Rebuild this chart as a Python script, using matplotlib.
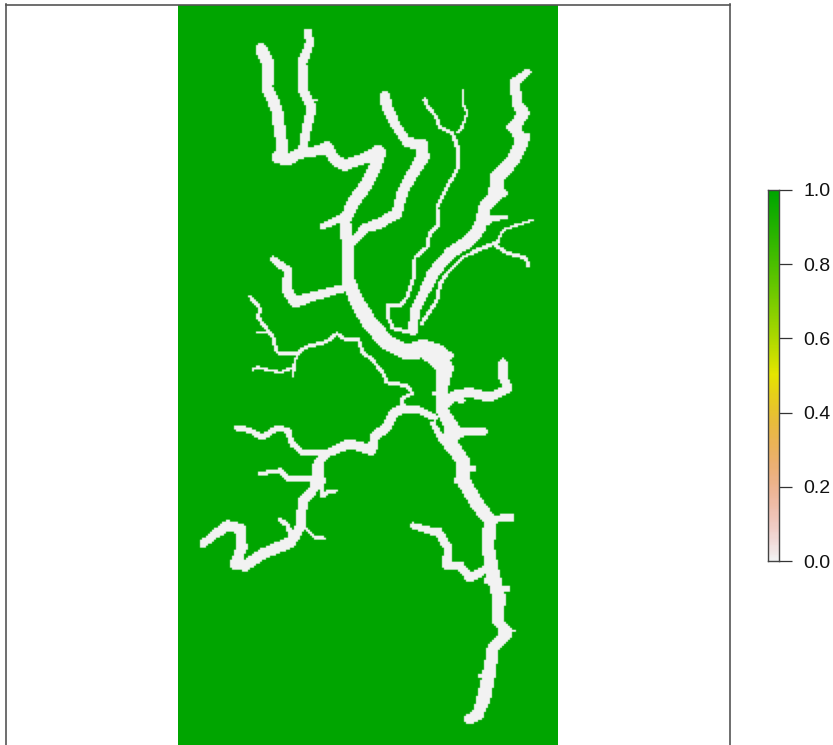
import colorsys

import numpy as np
import matplotlib
matplotlib.use('Agg')
import matplotlib.pyplot as plt
from matplotlib.colors import ListedColormap

plt.rcParams['font.family'] = ['Liberation Sans', 'DejaVu Sans']

# river reaches: (x, y, width) in screen pixels
main_stem = [(261, 49, 11), (268, 63, 11), (267, 87, 11), (277, 110, 11), (280, 133, 11), (283, 148, 10),
             (278, 157, 12), (287, 160, 11), (300, 153, 10), (313, 152, 9), (327, 147, 11), (335, 160, 10),
             (345, 165, 10), (367, 157, 10), (378, 153, 15), (377, 163, 11), (367, 183, 12), (353, 203, 12),
             (345, 220, 10), (348, 247, 12), (348, 280, 12), (358, 303, 14), (370, 323, 15), (387, 342, 15),
             (407, 352, 15), (423, 348, 18), (437, 355, 22), (445, 368, 16), (442, 390, 10), (441, 408, 11),
             (452, 427, 14), (450, 443, 14), (463, 460, 12), (463, 480, 13), (477, 503, 13), (490, 520, 12),
             (488, 547, 12), (493, 573, 13), (499, 597, 13), (498, 620, 10), (507, 632, 11), (493, 647, 11),
             (490, 667, 12), (487, 683, 13), (483, 700, 13), (478, 713, 11), (470, 718, 10)]
upper_west = [(308, 32, 7), (310, 43, 8), (302, 63, 9), (303, 90, 9), (312, 107, 9), (308, 123, 9), (303, 147, 8)]
upper_mid = [(385, 97, 10), (387, 108, 10), (397, 127, 9), (407, 142, 9), (422, 145, 11), (423, 157, 12),
             (413, 173, 11), (403, 190, 10), (397, 213, 10), (380, 223, 10), (365, 228, 9), (353, 242, 7)]
upper_stub = [(323, 226, 6), (343, 217, 7)]
thin_north = [(425, 100, 4), (428, 107, 3), (435, 115, 3), (440, 127, 3), (452, 133, 3), (458, 148, 4),
              (457, 170, 3), (447, 187, 3), (437, 207, 3), (438, 225, 3), (430, 233, 3), (427, 247, 3),
              (415, 257, 3), (413, 280, 3), (407, 297, 3), (400, 305, 3), (387, 305, 3), (388, 317, 3),
              (393, 328, 3), (410, 332, 3)]
hairline = [(463, 89, 1), (463, 103, 1.5), (467, 113, 1.5), (462, 127, 2), (458, 133, 2)]
east_long = [(528, 72, 6), (515, 82, 9), (517, 103, 10), (523, 113, 12), (515, 127, 11), (522, 143, 12),
             (513, 160, 13), (497, 177, 13), (497, 193, 13), (485, 207, 12), (480, 227, 12), (470, 240, 12),
             (450, 253, 11), (433, 273, 11), (425, 290, 10), (415, 310, 9), (413, 330, 9)]
east_stub = [(483, 225, 4), (493, 218, 5), (505, 217, 4)]
east_thin = [(533, 220, 1.5), (513, 226, 2), (503, 230, 2), (497, 242, 3), (477, 250, 3), (463, 257, 2.5),
             (447, 273, 3), (440, 283, 3), (437, 300, 3), (422, 323, 3)]
east_fork = [(496, 245, 3), (507, 253, 3), (525, 257, 3), (529, 266, 3)]
west_upper = [(273, 259, 6), (288, 270, 8), (287, 290, 9), (295, 302, 10), (310, 297, 9), (343, 288, 7)]
west_thin = [(250, 296, 3), (260, 308, 3), (258, 317, 3), (273, 337, 3), (277, 352, 3), (297, 353, 4),
             (305, 347, 3), (327, 341, 3), (337, 333, 3), (345, 339, 3), (358, 339, 3), (363, 352, 3),
             (373, 360, 3), (383, 373, 3), (387, 382, 3), (407, 385, 3), (412, 393, 3), (403, 397, 3),
             (402, 407, 3)]
west_twig = [(253, 369, 2), (258, 367, 2), (280, 372, 2), (293, 367, 2), (297, 355, 2)]
west_spur = [(292, 377, 1), (295, 367, 1.5)]
west_nub = [(257, 332, 1.5), (267, 331, 1.5)]
south_west = [(435, 417, 6), (420, 410, 7), (403, 408, 8), (393, 413, 9), (387, 427, 9), (375, 435, 9),
              (372, 450, 9), (350, 443, 9), (327, 453, 7), (318, 462, 9), (318, 480, 14), (313, 490, 8),
              (303, 500, 9), (300, 527, 9), (290, 542, 11), (263, 553, 10), (245, 565, 10), (235, 563, 10),
              (242, 547, 10), (240, 528, 10), (228, 525, 10), (217, 532, 9), (203, 543, 7)]
twig_j = [(236, 427, 5), (250, 430, 5), (262, 437, 5), (278, 427, 5), (288, 430, 5), (292, 443, 5),
          (302, 452, 5), (323, 452, 5)]
twig_k = [(260, 473, 3), (280, 470, 4), (288, 479, 5), (313, 477, 5)]
twig_l = [(322, 483, 3), (323, 495, 4), (328, 491, 3), (337, 490, 3)]
twig_m = [(280, 519, 4), (288, 525, 4), (290, 532, 4)]
twig_n = [(305, 527, 2), (315, 537, 3), (325, 538, 3)]
east_mid = [(503, 362, 8), (503, 377, 8), (508, 388, 9), (490, 397, 9), (470, 392, 9), (453, 395, 9), (447, 403, 8)]
east_low = [(483, 431, 8), (463, 431, 8), (453, 437, 8)]
side_channel = [(433, 423, 4), (443, 440, 7)]
stub_q = [(510, 517, 8), (497, 518, 6), (488, 527, 6)]
south_east = [(413, 525, 6), (430, 530, 7), (438, 531, 8), (448, 547, 8), (447, 565, 9), (460, 565, 8),
              (470, 577, 9), (483, 570, 8), (488, 567, 6)]
# small lumps along the banks
bank_lumps = [[(312, 100, 3), (317, 100, 3)], [(510, 127, 6), (516, 127, 6)], [(525, 113, 7), (520, 113, 7)],
              [(527, 137, 7), (520, 137, 7)], [(505, 193, 6), (497, 193, 6)], [(490, 190, 5), (497, 190, 5)],
              [(515, 630, 3), (507, 630, 3)], [(480, 675, 4), (486, 675, 4)], [(507, 588, 5), (500, 588, 5)],
              [(487, 580, 6), (493, 580, 6)], [(450, 355, 6), (442, 355, 6)], [(435, 393, 4), (441, 393, 4)],
              [(462, 400, 6), (455, 397, 6)], [(457, 480, 7), (463, 480, 7)], [(473, 468, 5), (466, 468, 5)]]

reaches = [main_stem, upper_west, upper_mid, upper_stub, thin_north, hairline, east_long, east_stub,
           east_thin, east_fork, west_upper, west_thin, west_twig, west_spur, west_nub, south_west,
           twig_j, twig_k, twig_l, twig_m, twig_n, east_mid, east_low, side_channel, stub_q, south_east] + bank_lumps

tick_values = [0.0, 0.2, 0.4, 0.6, 0.8, 1.0]
tick_labels = ['0.0', '0.2', '0.4', '0.6', '0.8', '1.0']


def terrain_cmap(n=255):
    # same ramp as R's terrain.colors, turned round so 0 is the pale end
    k = n // 2
    h = np.concatenate([np.linspace(4 / 12, 2 / 12, k), np.linspace(2 / 12, 0, n - k + 1)[1:]])
    s = np.concatenate([np.linspace(1, 1, k), np.linspace(1, 0, n - k + 1)[1:]])
    v = np.concatenate([np.linspace(0.65, 0.9, k), np.linspace(0.9, 0.95, n - k + 1)[1:]])
    cols = [colorsys.hsv_to_rgb(a, b, c) for a, b, c in zip(h, s, v)]
    return ListedColormap(cols[::-1])


def burn_reach(grid, xc, yc, reach):
    # set cells to 0 where they fall inside the reach
    for (x0, y0, w0), (x1, y1, w1) in zip(reach[:-1], reach[1:]):
        dx, dy = x1 - x0, y1 - y0
        t = ((xc - x0) * dx + (yc - y0) * dy) / (dx * dx + dy * dy)
        t = np.clip(t, 0, 1)
        dist = np.hypot(xc - (x0 + t * dx), yc - (y0 + t * dy))
        grid[dist <= (w0 + t * (w1 - w0)) / 2 + 0.4] = 0


W, H = 833, 745
cmap = terrain_cmap()

# raster cells, about 2 px each
left, right, top, bottom = 178, 557.5, 5, 770
cell = 2.0
xc, yc = np.meshgrid(np.arange(left + cell / 2, right, cell), np.arange(top + cell / 2, bottom, cell))
grid = np.ones(xc.shape)
for r in reaches:
    burn_reach(grid, xc, yc, r)

fig = plt.figure(figsize=(W / 100, H / 100), dpi=100)

frame_l, frame_r, frame_t, frame_b = 5.5, 729.5, 4.5, 770
ax = fig.add_axes([frame_l / W, 1 - frame_b / H, (frame_r - frame_l) / W, (frame_b - frame_t) / H])
ax.imshow(grid, cmap=cmap, vmin=0, vmax=1, interpolation='antialiased', extent=(left, right, bottom, top), aspect='auto')
ax.set_xlim(frame_l, frame_r)
ax.set_ylim(frame_b, frame_t)
ax.set_xticks([])
ax.set_yticks([])
for sp in ax.spines.values():
    sp.set_color('#555555')
    sp.set_linewidth(1.2)

# colour key
cax = fig.add_axes([768 / W, 1 - 561 / H, 11 / W, 371 / H])
ramp = np.linspace(1, 0, 256).reshape(-1, 1)
cax.imshow(ramp, cmap=cmap, vmin=0, vmax=1, aspect='auto', extent=(0, 1, 0, 1))
cax.set_xticks([])
cax.yaxis.tick_right()
cax.set_yticks(tick_values)
cax.set_yticklabels(tick_labels)
cax.tick_params(axis='y', length=9.4, width=0.9, color='#333333', labelsize=14, pad=8, labelcolor='#111111')
for sp in cax.spines.values():
    sp.set_color('#444444')
    sp.set_linewidth(1.0)

fig.savefig('out.png', dpi=100)
